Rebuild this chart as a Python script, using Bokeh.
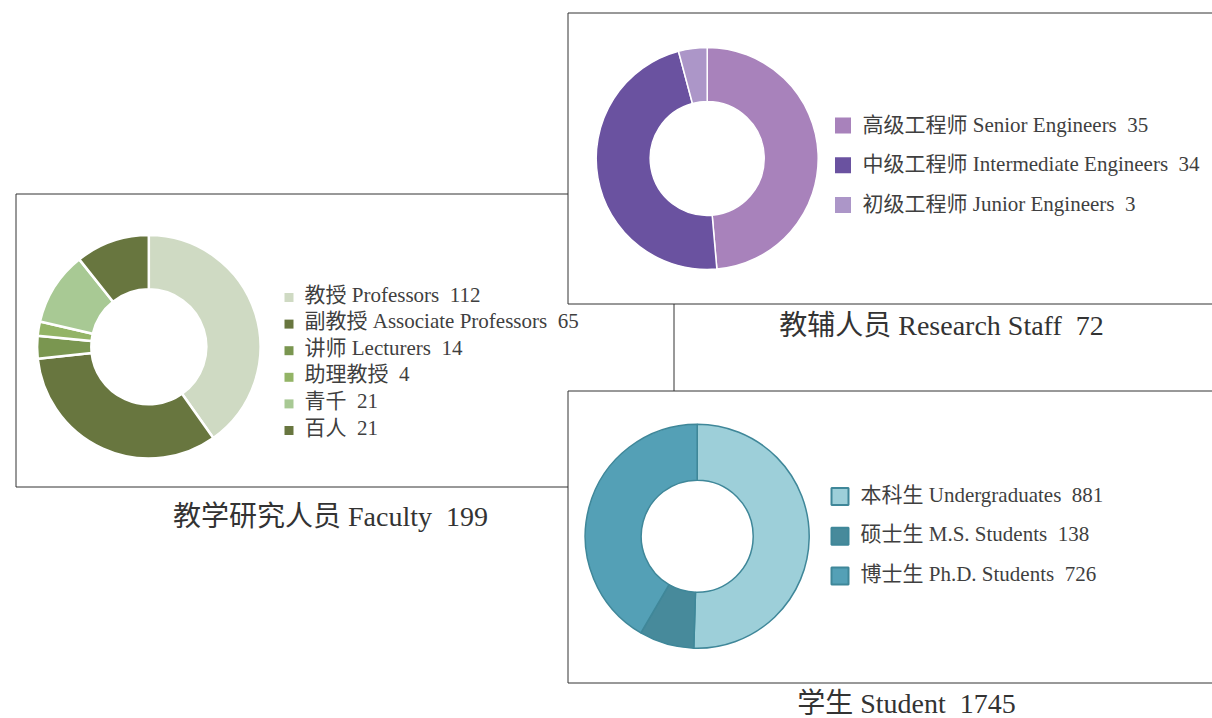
import math
from bokeh.plotting import figure
from bokeh.models import Range1d
from bokeh.embed import file_html
from bokeh.resources import INLINE
from bokeh.core.properties import value

# ---------------- data ----------------
faculty_labels = ["教授 Professors", "副教授 Associate Professors", "讲师 Lecturers",
                  "助理教授", "青千", "百人"]
faculty_counts = [112, 65, 14, 4, 21, 21]
faculty_arc_values = [79, 65, 6.5, 4, 21, 21]   # arc sizes as drawn in the picture
faculty_total = 199
faculty_title = "教学研究人员 Faculty"
faculty_colors = ["#cfdac3", "#68763f", "#7a9650", "#93b466", "#a8c994", "#68763f"]

research_labels = ["高级工程师 Senior Engineers", "中级工程师 Intermediate Engineers",
                   "初级工程师 Junior Engineers"]
research_counts = [35, 34, 3]
research_total = 72
research_title = "教辅人员 Research Staff"
research_colors = ["#a882bb", "#6a52a0", "#ac96c8"]

student_labels = ["本科生 Undergraduates", "硕士生 M.S. Students", "博士生 Ph.D. Students"]
student_counts = [881, 138, 726]
student_total = 1745
student_title = "学生 Student"
student_colors = ["#9dcfd9", "#478a9b", "#54a0b6"]

# ---------------- figure ----------------
W, H = 1212, 718
p = figure(width=W, height=H, output_backend="svg", toolbar_location=None,
           x_range=Range1d(0, W), y_range=Range1d(0, H), min_border=0,
           x_axis_location=None, y_axis_location=None)
p.grid.visible = False
p.outline_line_color = None
p.background_fill_color = "white"


def Y(v):
    return H - v


FONT = value("'Liberation Serif', 'Noto Sans CJK SC', serif")
TXT = "#3f3f3f"
BOX = "#333333"


def box(l, r, t, b):
    p.quad(left=l + 0.5, right=r + 0.5, top=Y(t + 0.5), bottom=Y(b + 0.5),
           fill_color="white", line_color=BOX, line_width=1)


def donut(cx, cy, r_in, r_out, vals, colors, lc, lw):
    total = sum(vals)
    starts, ends, cum = [], [], 0.0
    for v in vals:
        starts.append(math.pi / 2 - 2 * math.pi * cum / total)
        cum += v
        ends.append(math.pi / 2 - 2 * math.pi * cum / total)
    p.annular_wedge(x=cx, y=Y(cy), inner_radius=r_in, outer_radius=r_out,
                    start_angle=starts, end_angle=ends, direction="clock",
                    fill_color=colors, line_color=lc, line_width=lw)


def legend(xm, xt, y0, dy, labels, counts, colors, msize, moff, mline, mlw):
    n = len(labels)
    ys = [Y(y0 + i * dy) for i in range(n)]
    p.rect(x=[xm] * n, y=[y - moff for y in ys], width=msize, height=msize,
           fill_color=colors, line_color=mline, line_width=mlw)
    texts = [f"{lab} \u00a0{c}" for lab, c in zip(labels, counts)]
    p.text(x=[xt] * n, y=ys, text=texts, text_font=FONT, text_font_size="21px",
           text_color=TXT, text_baseline="middle", text_align="left")


def title(cx, cy, t, total):
    p.text(x=[cx], y=[Y(cy)], text=[f"{t} \u00a0{total}"], text_font=FONT,
           text_font_size="28px", text_color="#333333",
           text_baseline="middle", text_align="center")


# boxes (faculty box sits behind the other two)
box(15, 673, 193, 486)
box(567, 1240, 12, 303)
box(567, 1240, 390, 682)

# donuts
donut(148.3, 346.3, 57.5, 111.7, faculty_arc_values, faculty_colors, "white", 2.5)
donut(706.7, 158, 57, 111, research_counts, research_colors, "white", 1.5)
donut(696.7, 535.7, 56, 112, student_counts, student_colors, "#3f8799", 1.5)

# legends
legend(288.5, 304, 294, 26.6, faculty_labels, faculty_counts, faculty_colors,
       9, 3, None, 0)
legend(842.5, 862, 124, 39.8, research_labels, research_counts, research_colors,
       16, 1, None, 0)
legend(839.5, 860, 494, 39.8, student_labels, student_counts, student_colors,
       17, 2, "#3f8799", 2)

# titles
title(330, 516, faculty_title, faculty_total)
title(941, 325, research_title, research_total)
title(906, 703, student_title, student_total)

open("out.html", "w").write(file_html(p, INLINE))
